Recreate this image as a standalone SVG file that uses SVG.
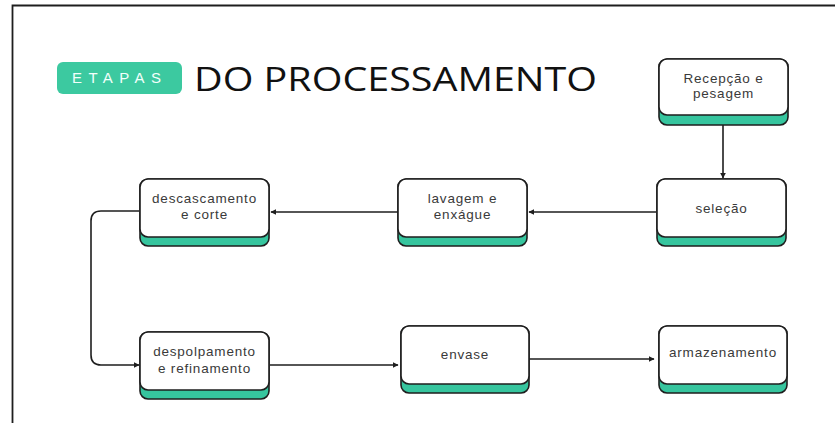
<svg xmlns="http://www.w3.org/2000/svg" width="835" height="423" viewBox="0 0 835 423">
<style>
.base{fill:#36c59e;stroke:#1e1e1e;stroke-width:1.6}
.top{fill:#ffffff;stroke:#1e1e1e;stroke-width:1.6}
.lbl{font-family:"Liberation Sans",Arial,sans-serif;font-size:13.5px;fill:#3a3a3a;text-anchor:middle;letter-spacing:0.8px}
.conn{fill:none;stroke:#1e1e1e;stroke-width:1.6}
</style>
<defs>
<marker id="arr" viewBox="0 0 10 10" refX="9" refY="5" markerWidth="6" markerHeight="6" orient="auto" markerUnits="userSpaceOnUse">
<path d="M0,0 L10,5 L0,10 Z" fill="#1e1e1e"/>
</marker>
</defs>
<rect width="835" height="423" fill="#ffffff"/>
<path d="M12.5,423 V5.5 H835" fill="none" stroke="#1e1e1e" stroke-width="1.8"/>
<g id="title">
<rect x="57" y="62" width="125" height="32" rx="6" fill="#3cc9a0"/>
<text x="72" y="83" font-family="'Liberation Sans',Arial,sans-serif" font-size="15" fill="#f2fffb" letter-spacing="6.4">ETAPAS</text>
<text x="194" y="91" font-family="'Open Sans','Liberation Sans',sans-serif" font-size="33" fill="#111111" textLength="403" lengthAdjust="spacingAndGlyphs">DO PROCESSAMENTO</text>
</g>
<g id="connectors">
<path class="conn" d="M723,125 V178" marker-end="url(#arr)"/>
<path class="conn" d="M656,212 H529" marker-end="url(#arr)"/>
<path class="conn" d="M398,212 H271" marker-end="url(#arr)"/>
<path class="conn" d="M139,211 H101 Q91,211 91,221 V355 Q91,365 101,365 H139" marker-end="url(#arr)"/>
<path class="conn" d="M270,365 H398" marker-end="url(#arr)"/>
<path class="conn" d="M529,359 H654" marker-end="url(#arr)"/>
</g>
<g id="recepcao">
<rect class="base" x="659" y="59" width="129" height="66" rx="8"/>
<rect class="top" x="659" y="59" width="129" height="56" rx="8"/>
<text class="lbl" x="723.5" y="83">Recepção e</text>
<text class="lbl" x="723.5" y="98">pesagem</text>
</g>
<g id="selecao">
<rect class="base" x="657" y="179" width="129" height="67" rx="8"/>
<rect class="top" x="657" y="179" width="129" height="58" rx="8"/>
<text class="lbl" x="721.5" y="213">seleção</text>
</g>
<g id="lavagem">
<rect class="base" x="398" y="179" width="129" height="67" rx="8"/>
<rect class="top" x="398" y="179" width="129" height="58" rx="8"/>
<text class="lbl" x="462.5" y="203">lavagem e</text>
<text class="lbl" x="462.5" y="219">enxágue</text>
</g>
<g id="descascamento">
<rect class="base" x="140" y="179" width="129" height="67" rx="8"/>
<rect class="top" x="140" y="179" width="129" height="58" rx="8"/>
<text class="lbl" x="204.5" y="203">descascamento</text>
<text class="lbl" x="204.5" y="219">e corte</text>
</g>
<g id="despolpamento">
<rect class="base" x="140" y="332" width="129" height="67" rx="8"/>
<rect class="top" x="140" y="332" width="129" height="58" rx="8"/>
<text class="lbl" x="204.5" y="356">despolpamento</text>
<text class="lbl" x="204.5" y="373">e refinamento</text>
</g>
<g id="envase">
<rect class="base" x="401" y="326" width="128" height="67" rx="8"/>
<rect class="top" x="401" y="326" width="128" height="58" rx="8"/>
<text class="lbl" x="465" y="359">envase</text>
</g>
<g id="armazenamento">
<rect class="base" x="659" y="326" width="128" height="67" rx="8"/>
<rect class="top" x="659" y="326" width="128" height="58" rx="8"/>
<text class="lbl" x="723" y="357">armazenamento</text>
</g>
</svg>
